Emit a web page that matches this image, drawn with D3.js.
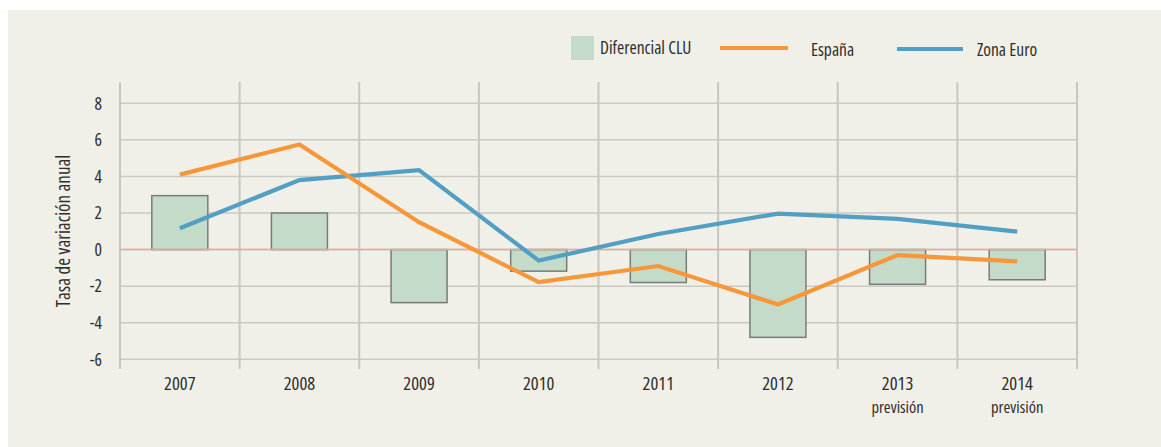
<!DOCTYPE html>
<html>
<head>
<meta charset="utf-8">
<script src="https://cdn.jsdelivr.net/npm/d3@7"></script>
<style>
  body { margin: 0; background: #fff; }
  text { font-family: "Open Sans", sans-serif; font-stretch: condensed; font-weight: 400; fill: #2e2e2e; }
</style>
</head>
<body>
<div id="chart"></div>
<script>
// data
var years = ["2007", "2008", "2009", "2010", "2011", "2012", "2013", "2014"];
var subLabels = ["", "", "", "", "", "", "previsión", "previsión"];
var diferencialCLU = [2.95, 2.0, -2.9, -1.18, -1.8, -4.8, -1.9, -1.65];
var espana = [4.1, 5.75, 1.5, -1.78, -0.9, -3.0, -0.3, -0.65];
var zonaEuro = [1.17, 3.8, 4.35, -0.6, 0.85, 1.97, 1.68, 0.98];
var yTicks = [-6, -4, -2, 0, 2, 4, 6, 8];

var W = 1161, H = 447;
var svg = d3.select("#chart").append("svg")
    .attr("width", W)
    .attr("height", H);

// beige panel
svg.append("rect")
    .attr("x", 8).attr("y", 10)
    .attr("width", W - 8).attr("height", H - 10)
    .attr("fill", "#f1f0e8");

var x = d3.scaleBand().domain(years).range([120, 1077]).paddingInner(0).paddingOuter(0);
var y = d3.scaleLinear().domain([-6, 8]).range([359.3, 103.3]);

var grid = svg.append("g");
// horizontal grid lines
grid.selectAll("line.h")
    .data(yTicks)
    .enter().append("line")
    .attr("class", "h")
    .attr("x1", 120).attr("x2", 1077)
    .attr("y1", function(d) { return y(d); })
    .attr("y2", function(d) { return y(d); })
    .attr("stroke", "#c9c9c6")
    .attr("stroke-width", 1.5);

// vertical separators
var seps = years.map(function(d) { return x(d); }).concat([x.range()[1]]);
grid.selectAll("line.v")
    .data(seps)
    .enter().append("line")
    .attr("class", "v")
    .attr("x1", function(d) { return d; })
    .attr("x2", function(d) { return d; })
    .attr("y1", 82).attr("y2", 369)
    .attr("stroke", "#c6c6c4")
    .attr("stroke-width", 2);

// y tick labels
svg.append("g").selectAll("text")
    .data(yTicks)
    .enter().append("text")
    .attr("x", 102)
    .attr("y", function(d) { return y(d); })
    .attr("dy", "0.36em")
    .attr("text-anchor", "end")
    .style("font-size", "17.5px")
    .text(function(d) { return d < 0 ? "-" + Math.abs(d) : d; });

svg.append("text")
    .attr("transform", "translate(70," + 231 + ") rotate(-90)")
    .attr("text-anchor", "middle")
    .style("font-size", "19px")
    .text("Tasa de variación anual");

// bars
var bw = 56;
svg.append("g").selectAll("rect")
    .data(diferencialCLU)
    .enter().append("rect")
    .attr("x", function(d, i) { return x(years[i]) + x.bandwidth() / 2 - bw / 2; })
    .attr("y", function(d) { return y(Math.max(0, d)); })
    .attr("width", bw)
    .attr("height", function(d) { return Math.abs(y(d) - y(0)); })
    .attr("fill", "#c4dbc9")
    .attr("stroke", "#7a7a7a")
    .attr("stroke-width", 1.5);

// zero line
svg.append("line")
    .attr("x1", 120).attr("x2", 1077)
    .attr("y1", y(0)).attr("y2", y(0))
    .attr("stroke", "#f2a29a")
    .attr("stroke-width", 1.5);

var line = d3.line()
    .x(function(d, i) { return x(years[i]) + x.bandwidth() / 2; })
    .y(function(d) { return y(d); });

svg.append("path")
    .datum(zonaEuro)
    .attr("d", line)
    .attr("fill", "none")
    .attr("stroke", "#529fc3")
    .attr("stroke-width", 4.2);

svg.append("path")
    .datum(espana)
    .attr("d", line)
    .attr("fill", "none")
    .attr("stroke", "#f7973a")
    .attr("stroke-width", 4.2);

// x labels (year + optional second line)
var xl = svg.append("g").selectAll("text")
    .data(years)
    .enter().append("text")
    .attr("x", function(d) { return x(d) + x.bandwidth() / 2; })
    .attr("y", 390)
    .attr("text-anchor", "middle");
xl.append("tspan")
    .style("font-size", "18.5px")
    .text(function(d) { return d; });
xl.filter(function(d, i) { return subLabels[i] !== ""; })
    .append("tspan")
    .attr("x", function(d) { return x(d) + x.bandwidth() / 2; })
    .attr("dy", 22.5)
    .style("font-size", "16.5px")
    .text(function(d) { return subLabels[years.indexOf(d)]; });

// legend
var lg = svg.append("g");
lg.append("rect")
    .attr("x", 571).attr("y", 36)
    .attr("width", 23).attr("height", 24)
    .attr("fill", "#c4dbc9");
lg.append("text").attr("x", 600).attr("y", 54).style("font-size", "17.5px").text("Diferencial CLU");
lg.append("line")
    .attr("x1", 720).attr("x2", 788).attr("y1", 48).attr("y2", 48)
    .attr("stroke", "#f7973a").attr("stroke-width", 4);
lg.append("text").attr("x", 811).attr("y", 56).style("font-size", "17.5px").text("España");
lg.append("line")
    .attr("x1", 897).attr("x2", 963).attr("y1", 49).attr("y2", 49)
    .attr("stroke", "#529fc3").attr("stroke-width", 4);
lg.append("text").attr("x", 977).attr("y", 56).style("font-size", "17.5px").text("Zona Euro");
</script>
</body>
</html>
